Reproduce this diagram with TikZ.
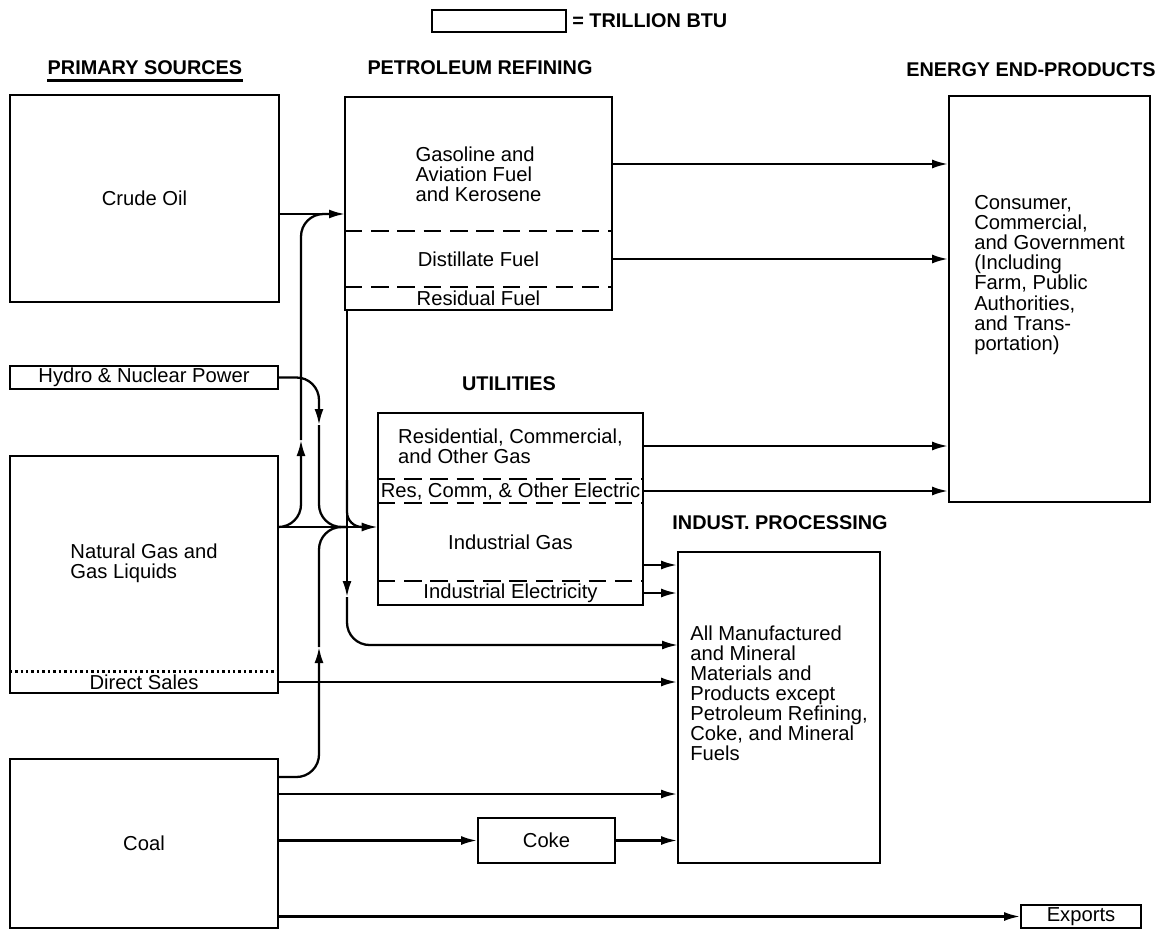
\documentclass[tikz,border=0pt]{standalone}
\usepackage{fontspec}
\setmainfont{Liberation Sans}
\usetikzlibrary{positioning}
\usetikzlibrary{arrows.meta}
\tikzset{
    boxn/.style = {rectangle, draw=black, line width=1.1pt, inner sep=0pt},
    part/.style = {rectangle, inner sep=0pt},
    head/.style = {inner sep=0pt, font=\fontsize{11.3}{13}\selectfont\bfseries},
    edgen/.style = {-{Latex[length=3.2mm,width=1.8mm]}, line width=1.3pt},
    edgec/.style = {-{Latex[length=3.2mm,width=1.8mm]}, line width=1.3pt, rounded corners=0.45cm},
    edgecp/.style = {line width=1.3pt, rounded corners=0.45cm},
    divd/.style = {line width=1.1pt, dash pattern=on 10pt off 5pt}, % dashed split
    divp/.style = {line width=1.5pt, dash pattern=on 1.4pt off 1.7pt} % dotted split
}

\begin{document}
\begin{tikzpicture}[
  x=0.02cm, y=-0.02cm,
  font=\fontsize{11.5}{11.4}\selectfont]
  \useasboundingbox (0,0) rectangle (1155,929);

  % legend and headings
  \node[boxn, minimum width=2.68cm, minimum height=0.44cm] (leg) at (499,21) {};
  \node[head, anchor=west] (legtext) at (572,21) {= TRILLION BTU};
  \node[head] (hprim) at (145,68) {PRIMARY SOURCES};
  \draw[line width=1.6pt] ([yshift=-3pt]hprim.base west) -- ([yshift=-3pt]hprim.base east);
  \node[head] (href) at (480,68) {PETROLEUM REFINING};
  \node[head] (hend) at (1031,70) {ENERGY END-PRODUCTS};
  \node[head] (hutil) at (509,384) {UTILITIES};
  \node[head] (hind) at (780,523) {INDUST. PROCESSING};

  % primary sources
  \node[boxn, minimum width=5.38cm, minimum height=4.14cm] (crude) at (144.5,198.5) {Crude Oil};
  \node[boxn, minimum width=5.36cm, minimum height=0.46cm] (hydro) at (144,377.5) {Hydro \& Nuclear Power};
  \node[part, minimum width=5.36cm, minimum height=4.3cm, align=left] (natgas) at (144,563.5) {Natural Gas and\\Gas Liquids};
  \node[part, minimum width=5.36cm, minimum height=0.44cm] (direct) at (144,682) {Direct Sales};
  \draw[line width=1.1pt] (natgas.north west) rectangle (direct.south east);
  \draw[divp] (natgas.south west) -- (natgas.south east);
  \node[boxn, minimum width=5.36cm, minimum height=3.38cm] (coal) at (144,843.5) {Coal};

  % petroleum refining
  \node[part, minimum width=5.34cm, minimum height=2.68cm,
    label={[align=left, yshift=-0.2cm]center:{Gasoline and\\Aviation Fuel\\and Kerosene}}] (gasol) at (478.5,164) {};
  \node[part, minimum width=5.34cm, minimum height=1.12cm] (distil) at (478.5,259) {Distillate Fuel};
  \node[part, minimum width=5.34cm, minimum height=0.46cm] (resid) at (478.5,298.5) {Residual Fuel};
  \draw[line width=1.1pt] (gasol.north west) rectangle (resid.south east);
  \draw[divd] (gasol.south west) -- (gasol.south east);
  \draw[divd] (distil.south west) -- (distil.south east);

  % utilities
  \node[part, minimum width=5.3cm, minimum height=1.32cm, align=left] (resgas) at (510.5,446) {Residential, Commercial,\\and Other Gas};
  \node[part, minimum width=5.3cm, minimum height=0.48cm] (reselec) at (510.5,491) {Res, Comm, \& Other Electric};
  \node[part, minimum width=5.3cm, minimum height=1.56cm] (indgas) at (510.5,542) {Industrial Gas};
  \node[part, minimum width=5.3cm, minimum height=0.48cm] (indelec) at (510.5,593) {Industrial Electricity};
  \draw[line width=1.1pt] (resgas.north west) rectangle (indelec.south east);
  \draw[divd] (resgas.south west) -- (resgas.south east);
  \draw[divd] (reselec.south west) -- (reselec.south east);
  \draw[divd] (indgas.south west) -- (indgas.south east);

  % end products
  \node[boxn, minimum width=4.02cm, minimum height=8.12cm,
    label={[align=left, yshift=0.48cm]center:{Consumer,\\Commercial,\\and Government\\(Including\\Farm, Public\\Authorities,\\and Trans-\\portation)}}] (endprod) at (1049.5,299) {};
  \node[boxn, minimum width=4.04cm, minimum height=6.22cm,
    label={[align=left, yshift=0.28cm]center:{All Manufactured\\and Mineral\\Materials and\\Products except\\Petroleum Refining,\\Coke, and Mineral\\Fuels}}] (indust) at (779,707.5) {};
  \node[boxn, minimum width=2.74cm, minimum height=0.9cm] (coke) at (546.5,840.5) {Coke};
  \node[boxn, minimum width=2.4cm, minimum height=0.46cm] (exports) at (1081,916.5) {Exports};

  % bend points
  \coordinate (crin) at (345,214);
  \coordinate (crj) at (330,214);
  \coordinate (ngout) at (278,527);
  \coordinate (upa) at (301,440);
  \coordinate (hda) at (319,425);
  \coordinate (jn) at (347,527);
  \coordinate (rfa) at (347,597);
  \coordinate (rfb) at (347,480);
  \coordinate (jr) at (362,527);
  \coordinate (rfin) at (678,645);
  \coordinate (coalup) at (278,777);
  \coordinate (cla) at (319,647);
  \coordinate (coalmid) at (278,794);
  \coordinate (igout) at (643,565);

  % flows into refining and utilities
  \draw[edgen] (crude.east |- crin) -- (crin);
  \draw[edgec] (ngout) -| (upa);
  \draw[edgecp] (upa) |- (crj);
  \draw[edgec] (hydro.east) -| (hda);
  \draw[edgecp] (hda) |- (jn);
  \draw[edgec] (coalup) -| (cla);
  \draw[edgecp] (cla) |- (jn);
  \draw[edgen] (ngout) -- (ngout -| indgas.west);
  \draw[edgen] (resid.south -| jn) -- (rfa);
  \draw[edgec] (rfa) |- (rfin);
  \draw[edgecp, rounded corners=0.3cm] (rfb) |- (jr);

  % flows to end products
  \draw[edgen] (gasol.east) -- (gasol.east -| endprod.west);
  \draw[edgen] (distil.east) -- (distil.east -| endprod.west);
  \draw[edgen] (resgas.east) -- (resgas.east -| endprod.west);
  \draw[edgen] (reselec.east) -- (reselec.east -| endprod.west);

  % flows to industry
  \draw[edgen] (igout) -- (igout -| indust.west);
  \draw[edgen] (indelec.east) -- (indelec.east -| indust.west);
  \draw[edgen] (direct.east) -- (direct.east -| indust.west);
  \draw[edgen] (coalmid) -- (coalmid -| indust.west);
  \draw[edgen] (coal.east |- coke.west) -- (coke.west);
  \draw[edgen] (coke.east) -- (coke.east -| indust.west);
  \draw[edgen] (coal.east |- exports.west) -- (exports.west);
\end{tikzpicture}
\end{document}
